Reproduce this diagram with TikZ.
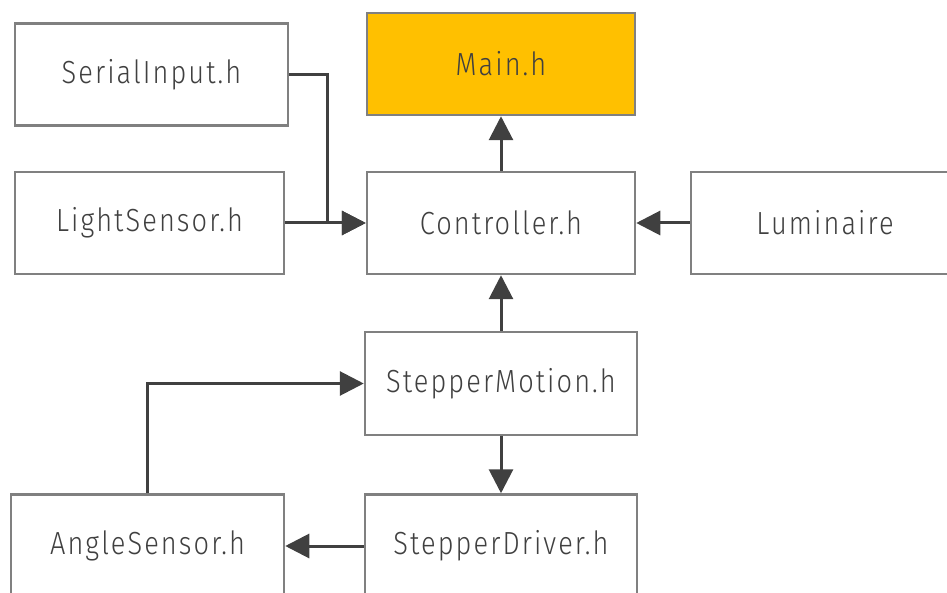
\documentclass[tikz,border=0pt]{standalone}
\usepackage{fontspec}
\setmainfont{Fira Sans Light}[FakeStretch=0.85, LetterSpace=6.5]
\usetikzlibrary{arrows.meta}
\definecolor{boxline}{HTML}{808080}
\definecolor{ink}{HTML}{404040}
\definecolor{mainfill}{HTML}{FFC000}
\tikzset{
  modbox/.style={draw=boxline, line width=2.5pt, fill=white, minimum width=270pt,
    minimum height=102pt, inner sep=0pt, text=ink, font=\fontsize{32}{38}\selectfont},
  dep/.style={draw=ink, line width=3pt, -{Triangle[length=24pt,width=24pt]}}
}
\begin{document}
\begin{tikzpicture}[x=1pt,y=-1pt]
\useasboundingbox (0,0) rectangle (947,593);
% module boxes
\node[modbox, minimum width=273pt] (si) at (151.5,74.5) {SerialInput.h};
\node[modbox, minimum width=269pt] (ls) at (149.5,223) {LightSensor.h};
\node[modbox, minimum width=268pt, fill=mainfill] (main) at (501,64) {Main.h};
\node[modbox, minimum width=268pt] (ctrl) at (501,223) {Controller.h};
\node[modbox, minimum width=268pt] (lum) at (825,223) {Luminaire};
\node[modbox, minimum width=272pt, minimum height=103pt] (sm) at (501,383.5) {StepperMotion.h};
\node[modbox, minimum width=273pt, minimum height=103pt] (as) at (147.5,546) {AngleSensor.h};
\node[modbox, minimum width=272pt, minimum height=103pt] (sd) at (501,546) {StepperDriver.h};

% dependencies
\draw[dep] (si.east) -- ++(38,0) |- (ctrl.west);
\draw[dep] (ls.east) -- (ctrl.west);
\draw[dep] (ctrl.north) -- (main.south);
\draw[dep] (lum.west) -- (ctrl.east);
\draw[dep] (sm.north) -- (ctrl.south);
\draw[dep] (as.north) |- (sm.west);
\draw[dep] (sm.south) -- (sd.north);
\draw[dep] (sd.west) -- (as.east);
\end{tikzpicture}
\end{document}
